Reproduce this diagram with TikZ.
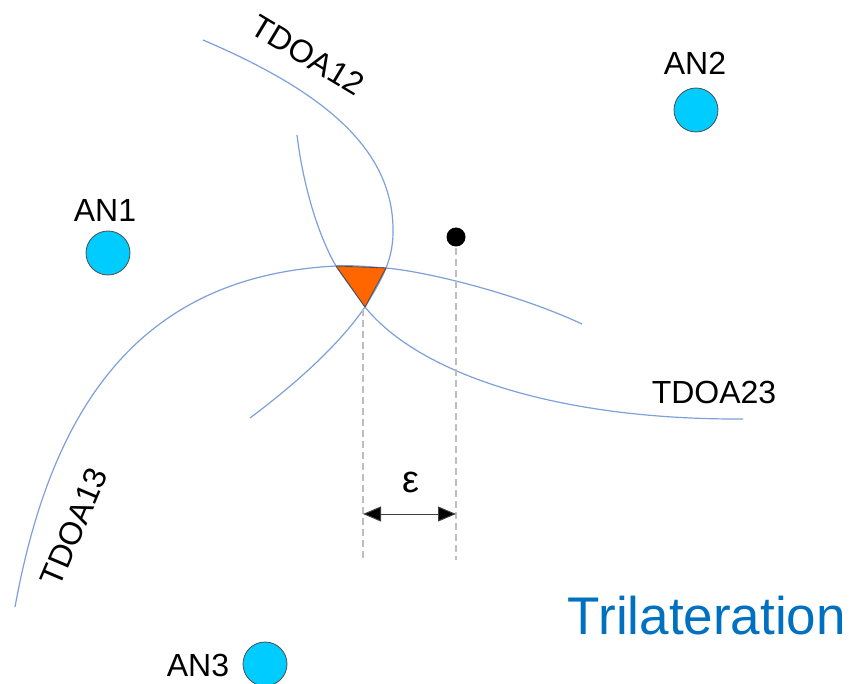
\documentclass[tikz,border=0pt]{standalone}
\usepackage{fontspec}
\setmainfont{Liberation Sans}
\usetikzlibrary{arrows.meta}
\definecolor{curveblue}{RGB}{125,160,218}
\definecolor{ancyan}{RGB}{0,204,255}
\definecolor{triorange}{RGB}{255,102,0}
\definecolor{titleblue}{RGB}{0,112,192}
\definecolor{guidegray}{RGB}{190,190,190}
\begin{document}
\begin{tikzpicture}[x=1pt,y=-1pt,
  anchornode/.style={circle,draw=black!70,fill=ancyan,line width=0.8pt,minimum size=44pt,inner sep=0pt},
  lbl/.style={font=\fontsize{32}{32}\selectfont,inner sep=0pt},
  hyper/.style={draw=curveblue,line width=1.2pt},
  guide/.style={draw=guidegray,line width=1.3pt,dash pattern=on 7pt off 4pt},
  measure/.style={draw=black!75,line width=1pt,{Triangle[length=18pt,width=15pt,fill=black]}-{Triangle[length=18pt,width=15pt,fill=black]}}]
\useasboundingbox (0,0) rectangle (849,684);

% triangle corners where the hyperbolas cross
\coordinate (tl) at (336,266);
\coordinate (tr) at (386,268);
\coordinate (tb) at (365,307);

% hyperbolic TDOA lines
\draw[hyper] (203,40) .. controls (325,92) and (394,150) .. (393,232)
  .. controls (393,262) and (380,282) .. (tb)
  .. controls (337,348) and (290,388) .. (250,418);
\draw[hyper] (297,135) .. controls (303,185) and (318,235) .. (tl)
  .. controls (346,281) and (356,294) .. (tb)
  .. controls (420,375) and (560,420) .. (743,419);
\draw[hyper] (15,607) .. controls (51,409) and (138,276) .. (tl)
  .. controls (355,265) and (370,267) .. (tr)
  .. controls (430,272) and (520,295) .. (582,324);

% uncertainty region
\draw[fill=triorange,draw=black!70,line width=0.8pt,line join=round] (tl) -- (tr) -- (tb) -- cycle;

% guide lines and error arrow
\coordinate (pc) at (456,237);
\coordinate (gb1) at (363,558);
\coordinate (gb2) at (456,560);
\draw[guide] (363,309) -- (gb1);
\draw[guide] (pc) -- (gb2);
\coordinate (e1) at (363,514);
\coordinate (e2) at (456,514);
\draw[measure] (e1) -- (e2);
\node[font=\fontsize{38}{38}\selectfont,inner sep=0pt] (eps) at (411,482) {ε};

% true position
\node[circle,fill=black,minimum size=19pt,inner sep=0pt] (pos) at (pc) {};

% anchor nodes
\node[anchornode] (an1) at (108,253) {};
\node[anchornode] (an2) at (696,110) {};
\node[anchornode] (an3) at (265,664) {};
\node[lbl] (an1l) at (105,210) {AN1};
\node[lbl] (an2l) at (695,63) {AN2};
\node[lbl] (an3l) at (198,665) {AN3};

% curve labels
\node[lbl,rotate=-31] (t12) at (308,55) {TDOA12};
\node[lbl] (t23) at (714,392) {TDOA23};
\node[lbl,rotate=67] (t13) at (74,527) {TDOA13};

% title
\node[font=\fontsize{53}{53}\selectfont,text=titleblue,inner sep=0pt,anchor=base east] (title) at (846,634) {Trilateration};
\end{tikzpicture}
\end{document}
